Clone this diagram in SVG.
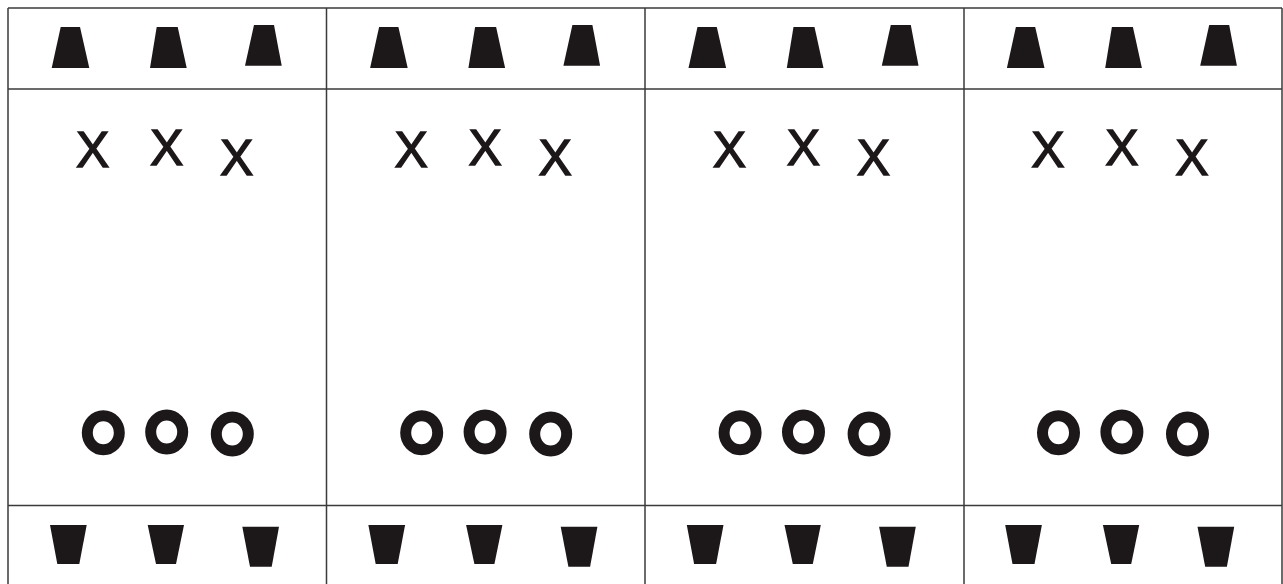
<svg xmlns="http://www.w3.org/2000/svg" width="1283" height="584" viewBox="0 0 1283 584">
<style>
.ln{stroke:#3a3a3a;stroke-width:1.5;fill:none}
.sh{fill:#1c1718}
.rg{fill:none;stroke:#1c1718;stroke-width:11}
.x{font-family:"Liberation Sans",Arial,sans-serif;font-size:50px;fill:#1c1718;stroke:#1c1718;stroke-width:1.4;text-anchor:middle}
</style>
<defs>
<g id="panel">
<polygon class="sh" points="60.7,27 80,27 89.3,68 51.7,68"/>
<polygon class="sh" points="156.7,27 177.7,27 186.7,68 150,68"/>
<polygon class="sh" points="254,25 274,25 281.7,65.7 245,65.7"/>
<ellipse class="rg" cx="103.3" cy="432.7" rx="16" ry="17"/>
<ellipse class="rg" cx="166.7" cy="432" rx="16" ry="17"/>
<ellipse class="rg" cx="232.3" cy="434" rx="16" ry="17"/>
<polygon class="sh" points="50,525 86.7,525 79.3,564 57.3,564"/>
<polygon class="sh" points="147.7,525 184,525 176,564 156,564"/>
<polygon class="sh" points="242.3,526.7 279,526.7 271.7,566.7 250,566.7"/>
</g>
</defs>
<g id="grid">
<line class="ln" x1="8" y1="8" x2="1282" y2="8"/>
<line class="ln" x1="8" y1="89" x2="1282" y2="89"/>
<line class="ln" x1="8" y1="505.5" x2="1282" y2="505.5"/>
<line class="ln" x1="8" y1="8" x2="8" y2="584"/>
<line class="ln" x1="326.5" y1="8" x2="326.5" y2="584"/>
<line class="ln" x1="645" y1="8" x2="645" y2="584"/>
<line class="ln" x1="964" y1="8" x2="964" y2="584"/>
<line class="ln" x1="1282" y1="8" x2="1282" y2="584"/>
</g>
<g id="panel1">
<use href="#panel"/>
<text class="x" x="92.7" y="166.5">X</text><text class="x" x="166.7" y="164.5">X</text><text class="x" x="236.7" y="174.5">X</text>
</g>
<g id="panel2" transform="translate(318.4,0)">
<use href="#panel"/>
<text class="x" x="92.7" y="166.5">X</text><text class="x" x="166.7" y="164.5">X</text><text class="x" x="236.7" y="174.5">X</text>
</g>
<g id="panel3" transform="translate(636.8,0)">
<use href="#panel"/>
<text class="x" x="92.7" y="166.5">X</text><text class="x" x="166.7" y="164.5">X</text><text class="x" x="236.7" y="174.5">X</text>
</g>
<g id="panel4" transform="translate(955.2,0)">
<use href="#panel"/>
<text class="x" x="92.7" y="166.5">X</text><text class="x" x="166.7" y="164.5">X</text><text class="x" x="236.7" y="174.5">X</text>
</g>
</svg>
